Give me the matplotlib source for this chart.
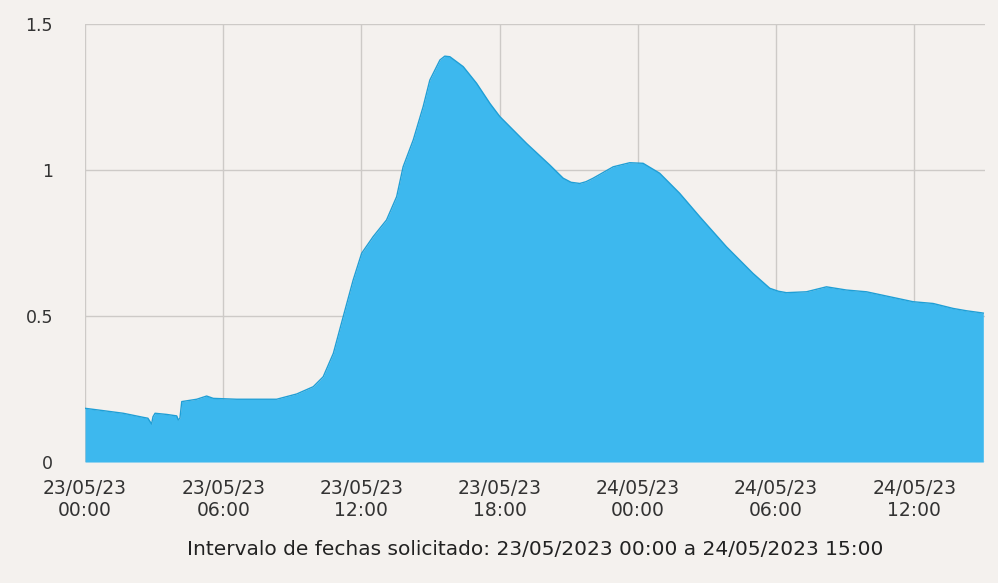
import numpy as np
import pandas as pd
import matplotlib.pyplot as plt
import matplotlib.dates as mdates

# hours since 23/05/2023 00:00 and the plotted value
hours = [0.00, 0.79, 1.66, 2.53, 2.73, 2.89, 2.95, 3.04, 3.55, 3.98, 4.05, 4.12,
         4.20, 4.85, 5.28, 5.57, 6.58, 8.32, 9.19, 9.91, 10.34, 10.78, 11.21,
         11.64, 12.01, 12.51, 13.09, 13.53, 13.81, 14.25, 14.68, 14.97, 15.41,
         15.62, 15.84, 16.42, 17.00, 17.58, 18.01, 19.17, 20.18, 20.76, 21.10,
         21.48, 21.75, 22.06, 22.93, 23.65, 24.23, 24.95, 25.82, 26.69, 27.85,
         29.00, 29.73, 30.10, 30.45, 31.32, 32.19, 33.06, 33.93, 34.94, 35.95,
         36.82, 37.69, 38.27, 38.92, 39.00]
values = [0.184, 0.176, 0.167, 0.153, 0.150, 0.130, 0.155, 0.167, 0.163, 0.158,
          0.144, 0.150, 0.207, 0.215, 0.226, 0.218, 0.215, 0.215, 0.233, 0.258,
          0.292, 0.372, 0.498, 0.623, 0.715, 0.772, 0.829, 0.909, 1.011, 1.103,
          1.217, 1.308, 1.377, 1.390, 1.388, 1.354, 1.297, 1.228, 1.183, 1.091,
          1.017, 0.972, 0.958, 0.954, 0.960, 0.972, 1.011, 1.025, 1.023, 0.989,
          0.920, 0.840, 0.737, 0.646, 0.595, 0.585, 0.580, 0.583, 0.600, 0.589,
          0.583, 0.566, 0.549, 0.543, 0.526, 0.518, 0.511, 0.510]

start = pd.Timestamp("2023-05-23 00:00")
end = pd.Timestamp("2023-05-24 15:00")
times = start + pd.to_timedelta(hours, unit="h")

yticks = [0, 0.5, 1, 1.5]
ytick_labels = ["0", "0.5", "1", "1.5"]
title = "Intervalo de fechas solicitado: 23/05/2023 00:00 a 24/05/2023 15:00"

bg = "#f4f1ee"
fig = plt.figure(figsize=(9.98, 5.83), dpi=100, facecolor=bg)
ax = fig.add_axes([0.0852, 0.2075, 0.902, 0.7513], facecolor=bg)

ax.fill_between(times, values, 0, color="#3db8ee", lw=0, zorder=2)
ax.plot(times, values, color="#1f9fd6", lw=1.0, zorder=3)

ax.set_xlim(start, end + pd.Timedelta(minutes=5))
ax.set_ylim(0, 1.5)
ax.set_yticks(yticks)
ax.set_yticklabels(ytick_labels)
ax.xaxis.set_major_locator(mdates.HourLocator(byhour=[0, 6, 12, 18]))
ax.xaxis.set_major_formatter(mdates.DateFormatter("%d/%m/%y\n%H:%M"))

ax.grid(True, color="#cdcac7", lw=1.0, zorder=1)
for s in ax.spines.values():
    s.set_visible(False)
ax.tick_params(length=0, colors="#333333", labelsize=13.5)
ax.tick_params(axis="y", pad=23, labelsize=12.5)
ax.tick_params(axis="x", pad=12)
for lbl in ax.get_xticklabels():
    lbl.set_horizontalalignment("center")

fig.text(0.536, 0.057, title, ha="center", va="center", fontsize=14.5, color="#222222")

fig.savefig("out.png", dpi=100, facecolor=bg)
